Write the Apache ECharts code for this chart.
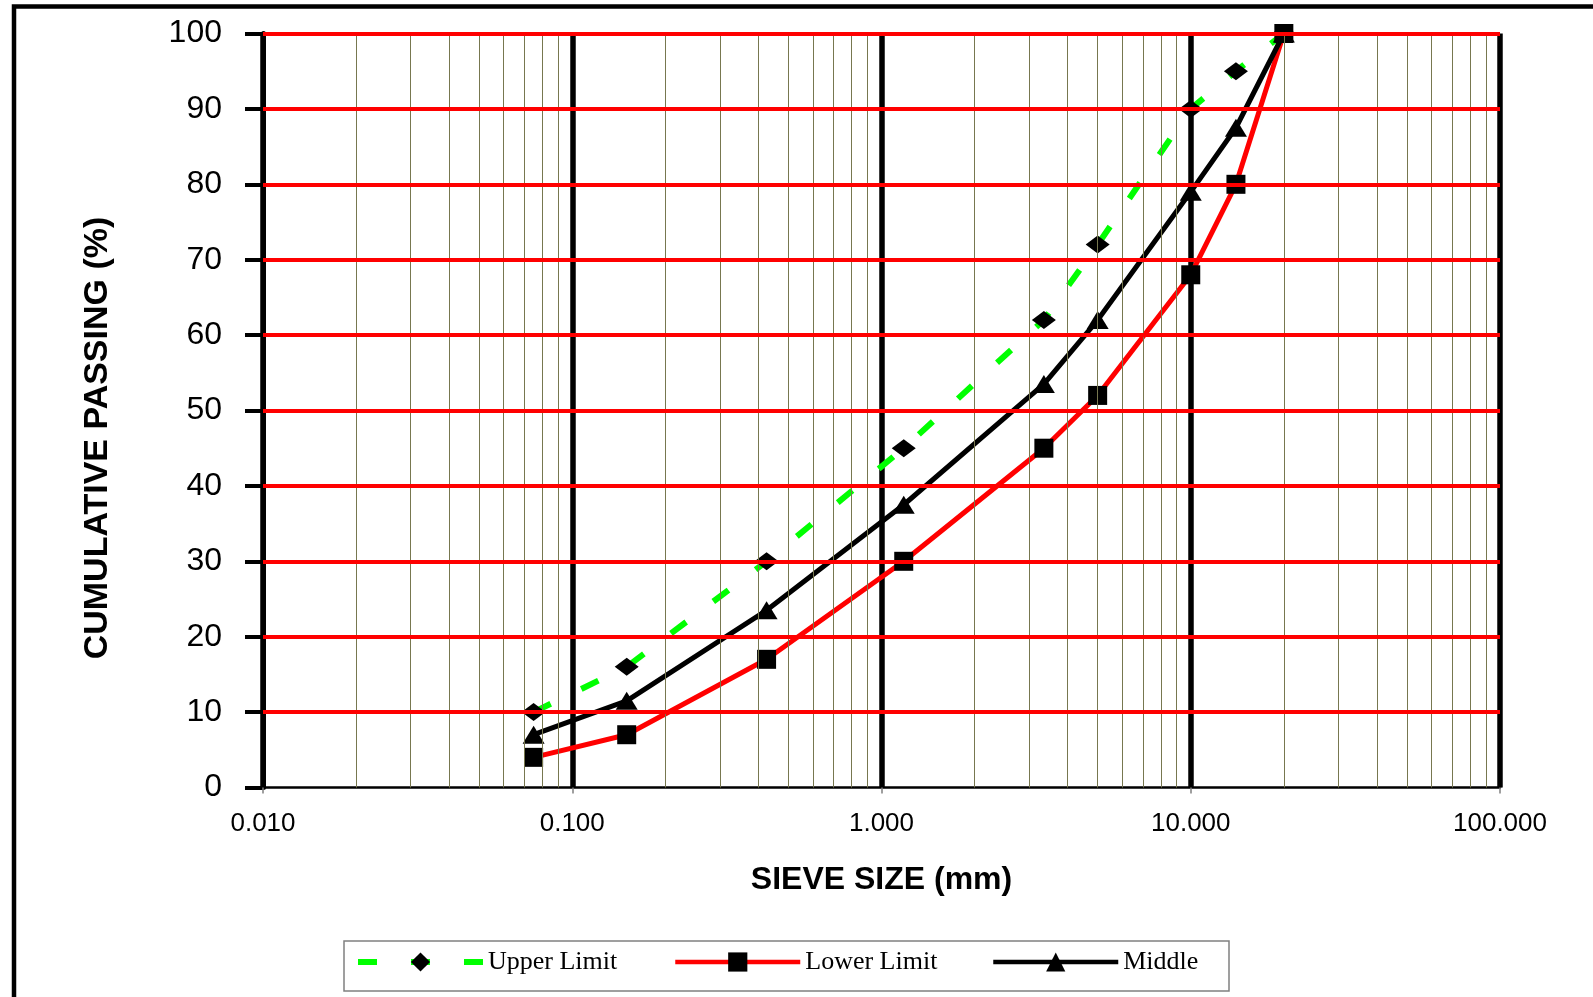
<!DOCTYPE html>
<html>
<head>
<meta charset="utf-8">
<title>Grading envelope</title>
<script src="https://cdn.jsdelivr.net/npm/echarts@6/dist/echarts.min.js"></script>
<style>
  html, body { margin: 0; padding: 0; background: #ffffff; }
  #chart { width: 1593px; height: 997px; }
</style>
</head>
<body>
<div id="chart"></div>
<script>
// Sieve sizes (mm) and cumulative passing (%) for the grading envelope
const sieveSizes = [0.075, 0.15, 0.425, 1.18, 3.35, 5, 10, 14, 20];
const upperLimit = [10, 16, 30, 45, 62, 72, 90, 95, 100];
const lowerLimit = [4, 7, 17, 30, 45, 52, 68, 80, 100];
const middle     = [7, 11.5, 23.5, 37.5, 53.5, 62, 79, 87.5, 100];

// Axis labels and grid positions
const xTickLabels = ['0.010', '0.100', '1.000', '10.000', '100.000'];
const minorSizes = [
  0.02, 0.03, 0.04, 0.05, 0.06, 0.07, 0.08, 0.09,
  0.2, 0.3, 0.4, 0.5, 0.6, 0.7, 0.8, 0.9,
  2, 3, 4, 5, 6, 7, 8, 9,
  20, 30, 40, 50, 60, 70, 80, 90
];
const passingGrid = [10, 20, 30, 40, 50, 60, 70, 80, 90, 100];

const pairs = (vals) => sieveSizes.map((s, i) => [s, vals[i]]);

const chart = echarts.init(document.getElementById('chart'), null, { renderer: 'canvas' });

const sansFont = '"Liberation Sans", Arial, sans-serif';
const serifFont = '"Liberation Serif", "Times New Roman", serif';

// one legend entry per block so each sits at its own column inside the frame
const legendEntry = (name, left, lineWidth) => ({
  data: [name],
  left: left, top: 949,
  orient: 'horizontal',
  padding: 0,
  itemWidth: 125, itemHeight: 24,
  selectedMode: false,
  lineStyle: { width: lineWidth },
  textStyle: { fontFamily: serifFont, fontSize: 26, color: '#000000' }
});

chart.setOption({
  animation: false,
  backgroundColor: '#ffffff',
  grid: { left: 263, right: 93, top: 33.5, bottom: 209.5, containLabel: false },
  graphic: [
    {
      type: 'rect', silent: true, z: 10,
      shape: { x: 14, y: 6.5, width: 1700, height: 1100 },
      style: { fill: 'none', stroke: '#000000', lineWidth: 4.5 }
    },
    {
      // legend frame
      type: 'rect', silent: true, z: 1,
      shape: { x: 344, y: 941, width: 885, height: 50 },
      style: { fill: '#ffffff', stroke: '#808080', lineWidth: 1.5 }
    },
    {
      type: 'text', silent: true, z: 10,
      x: 98, y: 438, rotation: Math.PI / 2,
      style: {
        text: 'CUMULATIVE PASSING (%)',
        font: 'bold 34px ' + sansFont,
        fill: '#000000',
        align: 'center', verticalAlign: 'middle'
      }
    }
  ],
  legend: [
    legendEntry('Upper Limit', 355, 6),
    legendEntry('Lower Limit', 673, 4.5),
    legendEntry('Middle', 991, 4.5)
  ],
  xAxis: {
    type: 'log', logBase: 10, min: 0.01, max: 100, z: 1,
    name: 'SIEVE SIZE (mm)', nameLocation: 'middle', nameGap: 77,
    nameTextStyle: { fontFamily: sansFont, fontWeight: 'bold', fontSize: 32, color: '#000000' },
    axisLine: { show: true, onZero: false, lineStyle: { color: '#000000', width: 2.5 } },
    axisTick: { show: true, inside: false, length: 6, lineStyle: { color: '#808080', width: 1.5 } },
    axisLabel: {
      margin: 23, fontFamily: sansFont, fontSize: 26, color: '#000000',
      formatter: (v) => xTickLabels[Math.round(Math.log10(v)) + 2]
    },
    splitLine: { show: true, lineStyle: { color: '#000000', width: 5.5 } },
    minorTick: { show: false }, minorSplitLine: { show: false }
  },
  yAxis: {
    type: 'value', min: 0, max: 100, interval: 10, z: 1,
    axisLine: { show: true, lineStyle: { color: '#000000', width: 5 } },
    axisTick: { show: true, inside: false, length: 18, lineStyle: { color: '#000000', width: 4 } },
    axisLabel: { margin: 41, fontFamily: sansFont, fontSize: 32, color: '#000000' },
    splitLine: { show: false }
  },
  series: [
    {
      // minor log grid lines
      name: 'minorGrid', type: 'line', data: [], z: 0.5, silent: true,
      markLine: {
        silent: true, symbol: ['none', 'none'], label: { show: false },
        lineStyle: { color: '#77774f', width: 1, type: 'solid' },
        emphasis: { disabled: true },
        data: minorSizes.map((v) => ({ xAxis: v }))
      }
    },
    {
      // horizontal passing grid lines
      name: 'passingGrid', type: 'line', data: [], z: 0.8, silent: true,
      markLine: {
        silent: true, symbol: ['none', 'none'], label: { show: false },
        lineStyle: { color: '#ff0000', width: 4, type: 'solid' },
        emphasis: { disabled: true },
        data: passingGrid.map((v) => ({ yAxis: v }))
      }
    },
    {
      name: 'Upper Limit', type: 'line', z: 3,
      data: pairs(upperLimit),
      symbol: 'diamond', symbolSize: [24, 18],
      itemStyle: { color: '#000000' },
      lineStyle: { color: '#00ff00', width: 6, type: [19, 34], cap: 'butt' },
      emphasis: { disabled: true }
    },
    {
      name: 'Lower Limit', type: 'line', z: 3,
      data: pairs(lowerLimit),
      symbol: 'rect', symbolSize: 19,
      itemStyle: { color: '#000000' },
      lineStyle: { color: '#ff0000', width: 5 },
      emphasis: { disabled: true }
    },
    {
      name: 'Middle', type: 'line', z: 3,
      data: pairs(middle),
      symbol: 'triangle', symbolSize: [22, 18],
      itemStyle: { color: '#000000' },
      lineStyle: { color: '#000000', width: 5 },
      emphasis: { disabled: true }
    }
  ]
});
</script>
</body>
</html>
